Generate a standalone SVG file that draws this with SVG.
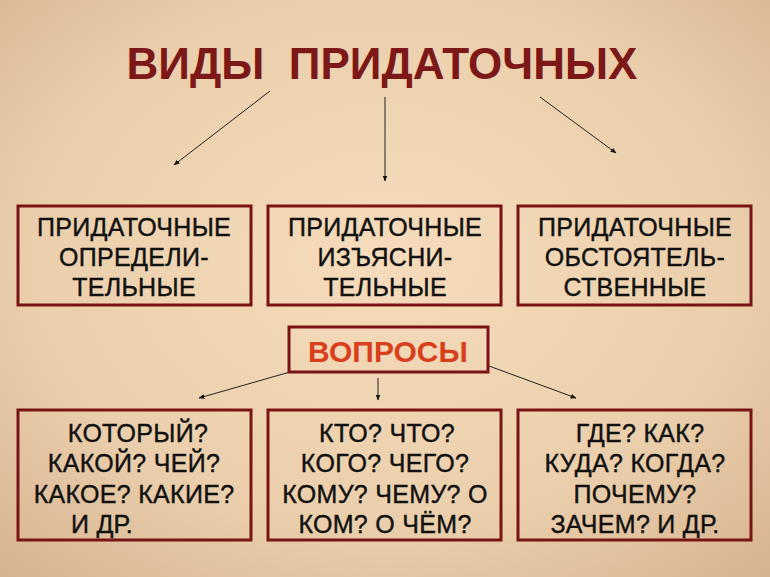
<svg xmlns="http://www.w3.org/2000/svg" width="770" height="577" viewBox="0 0 770 577">
<defs>
<radialGradient id="bg" cx="0.5" cy="0.45" r="0.75">
<stop offset="0" stop-color="#f6dcbc"/><stop offset="0.6" stop-color="#ebcfac"/><stop offset="1" stop-color="#d6b28e"/>
</radialGradient>
<marker id="ah" viewBox="0 0 10 10" refX="9" refY="5" markerWidth="6" markerHeight="6" orient="auto"><path d="M0,1 L10,5 L0,9 z" fill="#111"/></marker>
<style>
.box{fill:none;stroke:#7a1414;stroke-width:3}
.t{font-family:"Liberation Sans",Arial,sans-serif;font-size:25px;fill:#111;stroke:#111;stroke-width:0.4;text-anchor:middle;letter-spacing:0.3px}
.c{stroke:#222;stroke-width:1;fill:none;marker-end:url(#ah)}
</style>
</defs>
<rect width="770" height="577" fill="url(#bg)"/>
<text x="382" y="79" xml:space="preserve" font-family="'Liberation Sans',Arial,sans-serif" font-weight="bold" font-size="44" fill="#7d1818" text-anchor="middle">ВИДЫ  ПРИДАТОЧНЫХ</text>
<g id="connectors">
<line class="c" x1="270" y1="91" x2="174" y2="165"/>
<line class="c" x1="385" y1="97" x2="385" y2="181"/>
<line class="c" x1="540" y1="97" x2="616" y2="153"/>
<line class="c" x1="290" y1="372" x2="199" y2="398"/>
<line class="c" x1="378" y1="378" x2="378" y2="400"/>
<line class="c" x1="489" y1="366" x2="576" y2="398"/>
</g>
<g id="n1"><rect class="box" x="18" y="206" width="233" height="99"/>
<text class="t" x="134" y="236">ПРИДАТОЧНЫЕ</text><text class="t" x="134" y="266">ОПРЕДЕЛИ-</text><text class="t" x="134" y="296">ТЕЛЬНЫЕ</text></g>
<g id="n2"><rect class="box" x="268" y="206" width="233" height="99"/>
<text class="t" x="385" y="236">ПРИДАТОЧНЫЕ</text><text class="t" x="385" y="266">ИЗЪЯСНИ-</text><text class="t" x="385" y="296">ТЕЛЬНЫЕ</text></g>
<g id="n3"><rect class="box" x="518" y="206" width="233" height="99"/>
<text class="t" x="635" y="236">ПРИДАТОЧНЫЕ</text><text class="t" x="635" y="266">ОБСТОЯТЕЛЬ-</text><text class="t" x="635" y="296">СТВЕННЫЕ</text></g>
<g id="q"><rect class="box" x="289" y="327" width="199" height="45"/>
<text x="388" y="362" font-family="'Liberation Sans',Arial,sans-serif" font-weight="bold" font-size="30" fill="#d8401c" text-anchor="middle">ВОПРОСЫ</text></g>
<g id="a1"><rect class="box" x="18" y="410" width="233" height="130"/>
<text class="t" x="138" y="442">КОТОРЫЙ?</text><text class="t" x="134" y="472">КАКОЙ? ЧЕЙ?</text><text class="t" x="134" y="503">КАКОЕ? КАКИЕ?</text><text class="t" x="102" y="533">И ДР.</text></g>
<g id="a2"><rect class="box" x="268" y="410" width="233" height="130"/>
<text class="t" x="387" y="442">КТО? ЧТО?</text><text class="t" x="385" y="472">КОГО? ЧЕГО?</text><text class="t" x="385" y="503">КОМУ? ЧЕМУ? О</text><text class="t" x="385" y="533">КОМ? О ЧЁМ?</text></g>
<g id="a3"><rect class="box" x="518" y="410" width="233" height="130"/>
<text class="t" x="640" y="442">ГДЕ? КАК?</text><text class="t" x="635" y="472">КУДА? КОГДА?</text><text class="t" x="635" y="503">ПОЧЕМУ?</text><text class="t" x="635" y="533">ЗАЧЕМ? И ДР.</text></g>
</svg>
